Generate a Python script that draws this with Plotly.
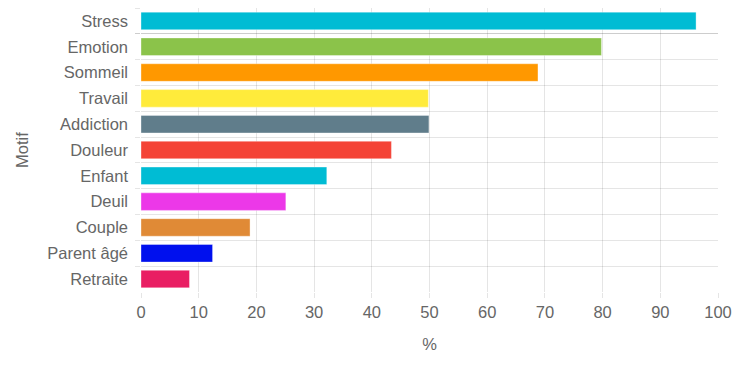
import plotly.graph_objects as go

motifs = ["Stress", "Emotion", "Sommeil", "Travail", "Addiction", "Douleur",
          "Enfant", "Deuil", "Couple", "Parent âgé", "Retraite"]
valeurs = [96.2, 79.8, 68.8, 49.8, 49.9, 43.4, 32.2, 25.1, 18.9, 12.4, 8.4]
couleurs = ["#00BCD4", "#8BC34A", "#FF9800", "#FFEB3B", "#607D8B", "#F44336",
            "#00BCD4", "#EC38E8", "#E08A36", "#0010EE", "#E91E63"]
x_ticks = [0, 10, 20, 30, 40, 50, 60, 70, 80, 90, 100]

FONT = "Liberation Sans, Arial, sans-serif"
GRID = "rgba(0,0,0,0.1)"
FS = 16.5

fig = go.Figure(go.Bar(
    y=motifs, x=valeurs, orientation="h",
    marker=dict(color=couleurs, line=dict(color="rgba(255,255,255,0.35)", width=1)),
    hoverinfo="x+y",
))

fig.update_layout(
    width=735, height=367, autosize=False,
    margin=dict(l=141, r=17, t=8, b=75, pad=0),
    plot_bgcolor="white", paper_bgcolor="white",
    font=dict(family=FONT, size=FS, color="#666666"),
    bargap=0.32,
    showlegend=False,
)
fig.update_xaxes(
    range=[0, 100], tickvals=x_ticks, automargin=False,
    showgrid=True, gridcolor=GRID, gridwidth=1,
    zeroline=False, showline=False,
    ticks="outside", ticklen=5, tickcolor=GRID,
    title=dict(text="%", standoff=18, font=dict(size=FS, color="#666666")),
    tickfont=dict(size=FS, color="#666666"),
)
fig.update_yaxes(
    categoryorder="array", categoryarray=motifs, autorange="reversed",
    automargin=False,
    tickson="boundaries", showgrid=True, gridcolor=GRID, gridwidth=1,
    zeroline=False, showline=False,
    ticks="outside", ticklen=5, tickcolor=GRID,
    ticklabelstandoff=12,
    title=dict(text="Motif", standoff=14, font=dict(size=FS, color="#666666")),
    tickfont=dict(size=FS, color="#666666"),
)

fig.write_html("out.html", config={"displayModeBar": False},
               post_script="document.body.style.margin='0';")
